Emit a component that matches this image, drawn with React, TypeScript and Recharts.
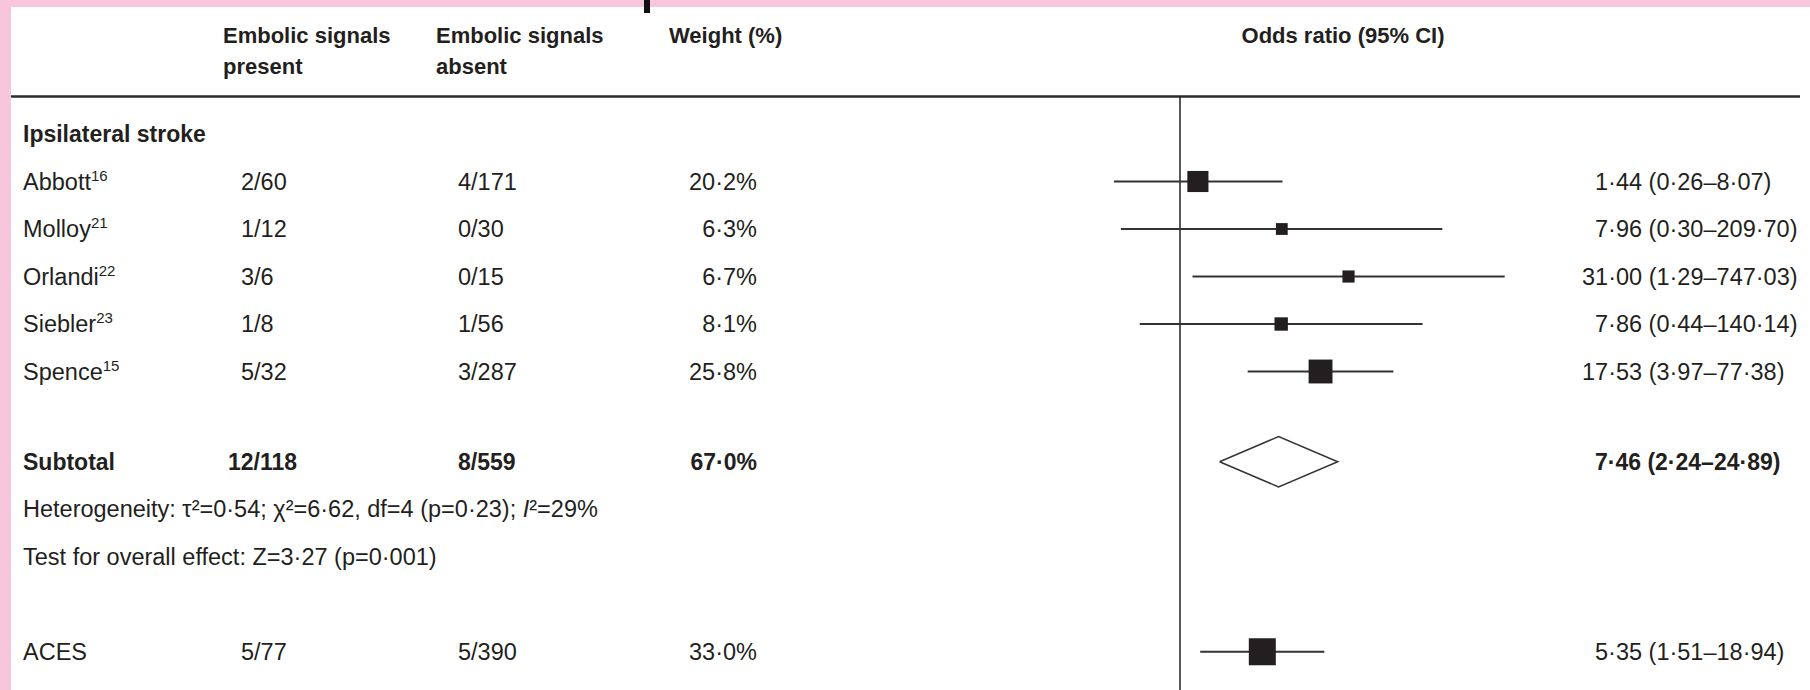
import { ComposedChart, ReferenceLine, Scatter, XAxis, YAxis } from 'recharts';

// study rows (top group + ACES)
const studies = ['Abbott', 'Molloy', 'Orlandi', 'Siebler', 'Spence', 'ACES'];
const refs = ['16', '21', '22', '23', '15', ''];
const presentEvents = [2, 1, 3, 1, 5, 5];
const presentTotal = [60, 12, 6, 8, 32, 77];
const absentEvents = [4, 0, 0, 1, 3, 5];
const absentTotal = [171, 30, 15, 56, 287, 390];
const weights = [20.2, 6.3, 6.7, 8.1, 25.8, 33.0];
const oddsRatios = [1.44, 7.96, 31.0, 7.86, 17.53, 5.35];
const ciLow = [0.26, 0.3, 1.29, 0.44, 3.97, 1.51];
const ciHigh = [8.07, 209.7, 747.03, 140.14, 77.38, 18.94];
const rowIndex = [1, 2, 3, 4, 5, 10.9];

// pooled subtotal
const subtotalPresent = [12, 118];
const subtotalAbsent = [8, 559];
const subtotalWeight = 67.0;
const subtotalOR = [7.46, 2.24, 24.89]; // estimate, low, high
const subtotalRow = 6.9;

const groupLabel = 'Ipsilateral stroke';
const testLabel = 'Test for overall effect: Z=3\u00b727 (p=0\u00b7001)';

const INK = '#231f20';
const FONT = '"Liberation Sans", Arial, sans-serif';
const FS = 23.5;
const W = 1810;
const H = 690;

const fmt = (v: number, d: number) => v.toFixed(d).replace('.', '\u00b7');
const ciText = (or: number, lo: number, hi: number) =>
  `${fmt(or, 2)} (${fmt(lo, 2)}\u2013${fmt(hi, 2)})`;
// numbers line up on the first decimal point
const ciX = (or: number) => 1595 - Math.floor(Math.log10(or)) * 13;

const studyData = studies.map((name, i) => ({
  name,
  ref: refs[i],
  present: `${presentEvents[i]}/${presentTotal[i]}`,
  absent: `${absentEvents[i]}/${absentTotal[i]}`,
  weight: weights[i],
  or: oddsRatios[i],
  lo: ciLow[i],
  hi: ciHigh[i],
  row: rowIndex[i],
}));

const [sEst, sLo, sHi] = subtotalOR;
const diamondData = [
  { or: sLo, row: subtotalRow },
  { or: sEst, row: subtotalRow - 0.53 },
  { or: sHi, row: subtotalRow },
  { or: sEst, row: subtotalRow + 0.53 },
  { or: sLo, row: subtotalRow },
];

const textRows = [
  { kind: 'group', or: 1, row: 0 },
  { kind: 'subtotal', or: sEst, row: subtotalRow },
  { kind: 'het', or: 1, row: subtotalRow + 1 },
  { kind: 'test', or: 1, row: subtotalRow + 2 },
];

const StudyShape = (props: any) => {
  const { cx, cy, payload } = props;
  const side = 4.7 * Math.sqrt(payload.weight);
  const ty = cy + 8;
  return (
    <g fontFamily={FONT} fontSize={FS} fill={INK}>
      <rect x={cx - side / 2} y={cy - side / 2} width={side} height={side} fill={INK} />
      <text x={23} y={ty}>
        {payload.name}
        {payload.ref && (
          <tspan fontSize={15} dy={-9}>
            {payload.ref}
          </tspan>
        )}
      </text>
      <text x={241} y={ty}>{payload.present}</text>
      <text x={458} y={ty}>{payload.absent}</text>
      <text x={757} y={ty} textAnchor="end">{fmt(payload.weight, 1)}%</text>
      <text x={ciX(payload.or)} y={ty}>{ciText(payload.or, payload.lo, payload.hi)}</text>
    </g>
  );
};

const TextShape = (props: any) => {
  const { cy, payload } = props;
  const ty = cy + 8;
  if (payload.kind === 'group') {
    return (
      <text x={23} y={ty} fontFamily={FONT} fontSize={23} fontWeight="bold" fill={INK}>
        {groupLabel}
      </text>
    );
  }
  if (payload.kind === 'subtotal') {
    return (
      <g fontFamily={FONT} fontSize={23} fontWeight="bold" fill={INK}>
        <text x={23} y={ty}>Subtotal</text>
        <text x={228} y={ty}>{subtotalPresent.join('/')}</text>
        <text x={458} y={ty}>{subtotalAbsent.join('/')}</text>
        <text x={757} y={ty} textAnchor="end">{fmt(subtotalWeight, 1)}%</text>
        <text x={ciX(sEst)} y={ty}>{ciText(sEst, sLo, sHi)}</text>
      </g>
    );
  }
  if (payload.kind === 'het') {
    return (
      <text x={23} y={ty} fontFamily={FONT} fontSize={FS} fill={INK}>
        {'Heterogeneity: \u03c4\u00b2=0\u00b754; \u03c7\u00b2=6\u00b762, df=4 (p=0\u00b723); '}
        <tspan fontStyle="italic">I</tspan>
        {'\u00b2=29%'}
      </text>
    );
  }
  return (
    <text x={23} y={ty} fontFamily={FONT} fontSize={FS} fill={INK}>
      {testLabel}
    </text>
  );
};

const Frame = () => (
  <g fontFamily={FONT} fontSize={22} fontWeight="bold" fill={INK}>
    <rect x={0} y={0} width={W} height={7} fill="#f7c6da" />
    <rect x={0} y={0} width={11} height={H} fill="#f7c6da" />
    <rect x={644} y={0} width={6} height={13} fill="#111" />
    <text x={223} y={43}>Embolic signals</text>
    <text x={223} y={74}>present</text>
    <text x={436} y={43}>Embolic signals</text>
    <text x={436} y={74}>absent</text>
    <text x={669} y={43}>Weight (%)</text>
    <text x={1343} y={43} textAnchor="middle">Odds ratio (95% CI)</text>
    <line x1={11} x2={1800} y1={96.5} y2={96.5} stroke="#2b2b2b" strokeWidth={2.5} />
  </g>
);

export default function App() {
  return (
    <div style={{ position: 'absolute', left: 0, top: 0, width: W, height: H, background: '#fff' }}>
      <ComposedChart width={W} height={H} margin={{ top: 96, right: 291, bottom: 0, left: 1067 }}>
        <XAxis type="number" dataKey="or" scale="log" domain={[0.1, 1000]} hide />
        <YAxis type="number" dataKey="row" domain={[-0.8, 11.705]} reversed hide />
        <ReferenceLine x={1} stroke={INK} strokeWidth={1.5} />
        {studyData.map((s) => (
          <ReferenceLine
            key={s.name}
            segment={[
              { x: s.lo, y: s.row },
              { x: s.hi, y: s.row },
            ]}
            stroke="#333"
            strokeWidth={2}
          />
        ))}
        <Scatter data={studyData} shape={StudyShape} isAnimationActive={false} />
        <Scatter
          data={diamondData}
          line={{ stroke: '#333', strokeWidth: 1.5, fill: 'none' }}
          shape={() => <g />}
          isAnimationActive={false}
        />
        <Scatter data={textRows} shape={TextShape} isAnimationActive={false} />
        <Frame />
      </ComposedChart>
    </div>
  );
}
